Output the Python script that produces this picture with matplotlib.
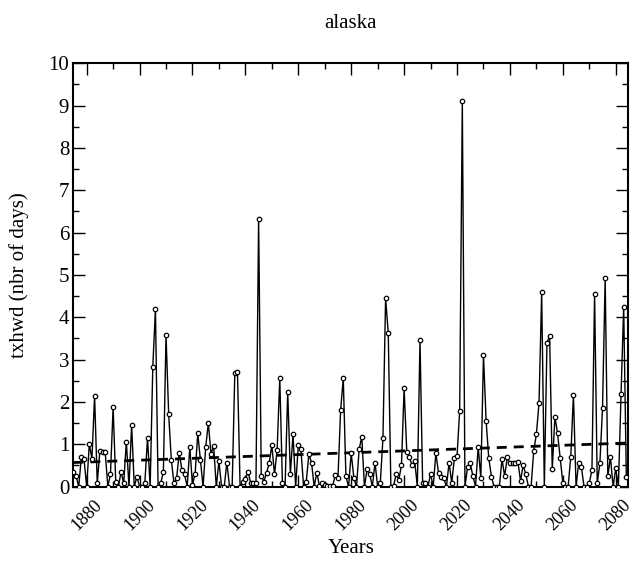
import numpy as np
import matplotlib
matplotlib.use("Agg")
import matplotlib.pyplot as plt
from matplotlib.ticker import MultipleLocator

start_year = 1875
values = [
    0.35, 0.25, 0.0, 0.7, 0.65, 0.0, 1.0, 0.66, 2.15, 0.08,    # 1875-1884
    0.85, 0.83, 0.83, 0.0, 0.3, 1.87, 0.1, 0.0, 0.35, 0.08,     # 1885-1894
    1.06, 0.0, 1.46, 0.0, 0.24, 0.0, 0.0, 0.09, 1.16, 0.0,      # 1895-1904
    2.83, 4.2, 0.0, 0.08, 0.35, 3.58, 1.71, 0.63, 0.08, 0.2,    # 1905-1914
    0.8, 0.39, 0.29, 0.0, 0.93, 0.04, 0.31, 1.26, 0.63, 0.0,    # 1915-1924
    0.94, 1.5, 0.77, 0.96, 0.0, 0.6, 0.0, 0.0, 0.57, 0.0,       # 1925-1934
    0.0, 2.68, 2.72, 0.0, 0.12, 0.17, 0.35, 0.09, 0.08, 0.08,   # 1935-1944
    6.33, 0.25, 0.12, 0.33, 0.55, 0.98, 0.29, 0.87, 2.56, 0.09, # 1945-1954
    0.0, 2.24, 0.3, 1.24, 0.0, 0.98, 0.88, 0.0, 0.12, 0.77,     # 1955-1964
    0.57, 0.0, 0.33, 0.02, 0.08, 0.04, 0.02, 0.02, 0.02, 0.28,  # 1965-1974
    0.21, 1.81, 2.56, 0.25, 0.0, 0.79, 0.21, 0.0, 0.88, 1.18,   # 1975-1984
    0.0, 0.41, 0.29, 0.0, 0.57, 0.0, 0.09, 1.14, 4.45, 3.64,    # 1985-1994
    0.0, 0.02, 0.29, 0.16, 0.51, 2.32, 0.83, 0.69, 0.51, 0.6,   # 1995-2004
    0.0, 3.46, 0.09, 0.08, 0.0, 0.3, 0.0, 0.79, 0.33, 0.24,     # 2005-2014
    0.2, 0.0, 0.57, 0.09, 0.67, 0.72, 1.79, 9.1, 0.0, 0.47,     # 2015-2024
    0.55, 0.25, 0.0, 0.94, 0.2, 3.11, 1.55, 0.67, 0.24, 0.0,    # 2025-2034
    0.0, 0.0, 0.65, 0.25, 0.69, 0.55, 0.57, 0.55, 0.59, 0.14,   # 2035-2044
    0.51, 0.29, 0.0, 0.0, 0.85, 1.24, 1.98, 4.6, 0.0, 3.4,      # 2045-2054
    3.56, 0.41, 1.65, 1.26, 0.67, 0.09, 0.0, 0.0, 0.71, 2.17,   # 2055-2064
    0.0, 0.57, 0.47, 0.0, 0.0, 0.09, 0.39, 4.55, 0.08, 0.55,    # 2065-2074
    1.85, 4.93, 0.25, 0.69, 0.0, 0.43, 0.0, 2.18, 4.25, 0.22,   # 2075-2084
]
years = np.arange(start_year, start_year + len(values))

trend_years = [1875, 2084]
trend_values = [0.57, 1.03]

title = "alaska"
xlabel = "Years"
ylabel = "txhwd (nbr of days)"
xticks = list(range(1880, 2081, 20))
yticks = list(range(0, 11))

plt.rcParams['font.family'] = ['Liberation Serif', 'DejaVu Serif']

fig = plt.figure(figsize=(6.33, 5.61), dpi=100)
ax = fig.add_axes([0.1158, 0.1325, 0.8768, 0.7547])

ax.plot(years, values, color='black', lw=1.0, marker='o', ms=3.2,
        mfc='white', mec='black', mew=0.9, zorder=3)
ax.plot(trend_years, trend_values, color='black', lw=2.0,
        dashes=(3.6, 2.5), zorder=2)

ax.set_xlim(1874.95, 2084.75)
ax.set_ylim(0, 10)
ax.set_xticks(xticks)
ax.set_yticks(yticks)
ax.xaxis.set_minor_locator(MultipleLocator(10))
ax.yaxis.set_minor_locator(MultipleLocator(0.5))

ax.tick_params(which='both', direction='in', top=True, right=True, width=1.0)
ax.tick_params(axis='y', labelsize=15, pad=3)
ax.tick_params(axis='x', labelsize=13, pad=7)
ax.tick_params(which='major', length=8.6)
ax.tick_params(which='minor', length=4.3)
for lbl in ax.get_xticklabels():
    lbl.set_rotation(45)
    lbl.set_ha('center')
for s in ax.spines.values():
    s.set_linewidth(1.5)

ax.set_xlabel(xlabel, fontsize=15, labelpad=4)
ax.set_ylabel(ylabel, fontsize=15, labelpad=14)
fig.text(0.554, 1 - 24 / 561, title, fontsize=15, ha='center', va='center')

fig.savefig("out.png", dpi=100)
